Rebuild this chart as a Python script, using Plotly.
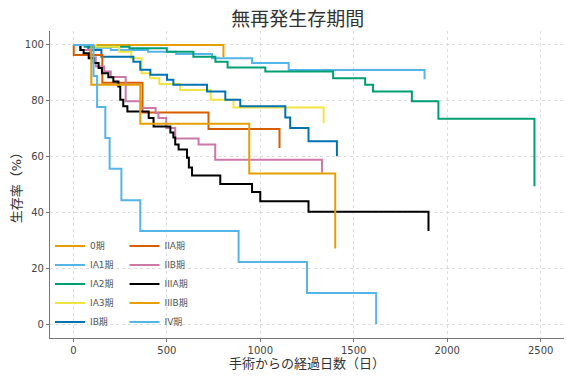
import plotly.graph_objects as go

# ---- data (days, survival %) ----
stage_names = ["0期", "IA1期", "IA2期", "IA3期", "IB期", "IIA期", "IIB期", "IIIA期", "IIIB期", "IV期"]

days_0 = [0, 803, 803]
surv_0 = [100, 100, 95.5]

days_ia1 = [0, 90, 200, 400, 550, 742, 956, 1152, 1879, 1879]
surv_ia1 = [100, 99.0, 98.2, 97.6, 96.8, 95.2, 93.5, 91.0, 91.0, 87.7]

days_ia2 = [0, 60, 300, 500, 642, 760, 825, 1027, 1390, 1561, 1603, 1811, 1953, 2467, 2467]
surv_ia2 = [100, 99.4, 98.8, 97.6, 95.8, 94.0, 91.9, 90.5, 88.1, 85.7, 83.3, 79.8, 73.6, 73.6, 49.4]

days_ia3 = [0, 120, 245, 310, 365, 410, 460, 570, 735, 857, 1339, 1339]
surv_ia3 = [100, 99.4, 97.6, 95.2, 89.9, 88.1, 86.0, 83.9, 80.4, 77.6, 77.6, 72.0]

days_ib = [0, 80, 150, 321, 358, 412, 501, 535, 715, 813, 893, 1134, 1160, 1258, 1410, 1410]
surv_ib = [100, 98.2, 95.8, 94.0, 91.1, 89.3, 87.5, 85.7, 83.3, 80.4, 78.0, 74.0, 70.2, 65.5, 65.5, 60.1]

days_iia = [0, 2, 155, 370, 723, 1103, 1103]
surv_iia = [100, 96.4, 86.5, 75.8, 69.9, 69.9, 63.1]

days_iib = [0, 40, 90, 120, 165, 200, 280, 360, 440, 455, 497, 545, 670, 759, 1330, 1330]
surv_iib = [100, 98.2, 95.5, 92.3, 90.5, 88.5, 79.8, 77.4, 75.6, 73.8, 70.2, 66.5, 64.3, 58.9, 58.9, 54.2]

days_iiia = [0, 37, 55, 82, 109, 135, 153, 187, 214, 241, 251, 267, 289, 403, 429, 519, 535,
             545, 563, 608, 618, 635, 786, 956, 1000, 1258, 1900, 1900]
surv_iiia = [100, 98.2, 97.0, 95.2, 93.5, 91.7, 89.9, 88.4, 86.9, 85.1, 80.4, 78.0, 76.2, 73.8, 70.8, 68.6, 66.8,
             64.3, 62.5, 59.6, 56.1, 53.2, 50.2, 47.3, 44.0, 40.2, 40.2, 33.3]

days_iiib = [0, 96, 358, 941, 1401, 1401]
surv_iiib = [100, 85.7, 71.8, 53.9, 53.9, 27.1]

days_iv = [0, 108, 127, 171, 194, 257, 358, 884, 1250, 1620, 1620]
surv_iv = [100, 88.9, 77.8, 66.7, 55.6, 44.4, 33.3, 22.2, 11.1, 11.1, 0]

all_days = [days_0, days_ia1, days_ia2, days_ia3, days_ib, days_iia, days_iib, days_iiia, days_iiib, days_iv]
all_surv = [surv_0, surv_ia1, surv_ia2, surv_ia3, surv_ib, surv_iia, surv_iib, surv_iiia, surv_iiib, surv_iv]

colors = ["#E69F00", "#56B4E9", "#009E73", "#F0E442", "#0072B2",
          "#D55E00", "#CC79A7", "#000000", "#E69F00", "#56B4E9"]

x_ticks = [0, 500, 1000, 1500, 2000, 2500]
y_ticks = [0, 20, 40, 60, 80, 100]

FONT = "DejaVu Sans, Noto Sans CJK JP, sans-serif"

fig = go.Figure()
for i, (name, d, s, c) in enumerate(zip(stage_names, all_days, all_surv, colors)):
    fig.add_trace(go.Scatter(
        x=d, y=s, mode="lines", name=name,
        line=dict(color=c, width=2, shape="hv"),
        legend="legend" if i < 5 else "legend2",
    ))

fig.update_layout(
    width=567, height=378,
    margin=dict(l=50, r=3, t=31, b=40),
    paper_bgcolor="white", plot_bgcolor="white",
    font=dict(family=FONT, color="#444444"),
    title=dict(text="無再発生存期間", x=0.525, xanchor="center", y=0.95, yanchor="middle",
               font=dict(size=19, color="#333333", family=FONT)),
    legend=dict(x=0.0, y=0.005, xanchor="left", yanchor="bottom",
                bgcolor="rgba(255,255,255,0)", font=dict(size=9, color="#555555"),
                itemwidth=30, tracegroupgap=0),
    legend2=dict(x=0.145, y=0.005, xanchor="left", yanchor="bottom",
                 bgcolor="rgba(255,255,255,0)", font=dict(size=9, color="#555555"),
                 itemwidth=30, tracegroupgap=0),
    showlegend=True,
)

fig.update_xaxes(
    range=[-125, 2625], tickvals=x_ticks, ticktext=[str(v) for v in x_ticks],
    showline=True, linecolor="#777777", linewidth=1.2, ticks="outside", ticklen=3, tickcolor="#777777",
    showgrid=True, gridcolor="#dddddd", griddash="dot", gridwidth=1, zeroline=False,
    tickfont=dict(size=10, color="#444444"), automargin=False,
    title=dict(text="手術からの経過日数（日）", font=dict(size=13, color="#333333"), standoff=0),
)
fig.update_yaxes(
    range=[-5, 105], tickvals=y_ticks, ticktext=[str(v) for v in y_ticks],
    showline=True, linecolor="#777777", linewidth=1.2, ticks="outside", ticklen=3, tickcolor="#777777",
    showgrid=True, gridcolor="#dddddd", griddash="dot", gridwidth=1, zeroline=False,
    tickfont=dict(size=10, color="#444444"), automargin=False,
    title=dict(text="生存率（%）", font=dict(size=13, color="#333333"), standoff=0),
)

fig.write_html("out.html", config={"displayModeBar": False},
               post_script="document.body.style.margin='0px';document.body.style.padding='0px';")
